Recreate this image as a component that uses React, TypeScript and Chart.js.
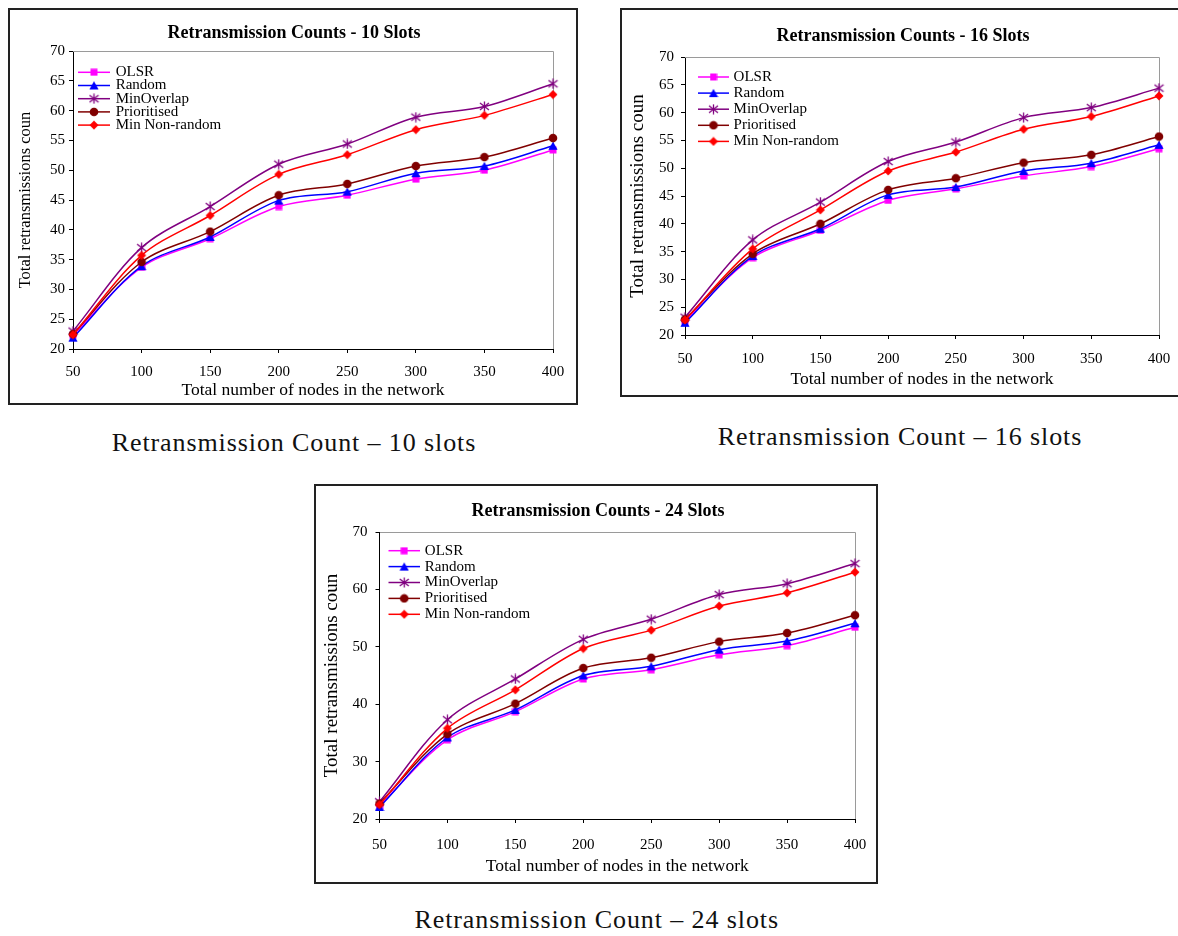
import React, { useEffect, useRef } from "react";
import { Chart, registerables } from "chart.js";
Chart.register(...registerables);

const FONT = "'Liberation Serif', 'Times New Roman', serif";

// ---------- data ----------
const nodes = [50, 100, 150, 200, 250, 300, 350, 400];
const seriesNames = ["OLSR", "Random", "MinOverlap", "Prioritised", "Min Non-random"];
const seriesColors = ["#FF00FF", "#0000FF", "#800080", "#800000", "#FF0000"];
const seriesMarkers = ["square", "triangle", "star", "circle", "diamond"];

const olsr10 = [22.3, 33.7, 38.5, 43.9, 45.8, 48.5, 50.0, 53.4];
const random10 = [21.9, 33.9, 38.8, 44.9, 46.4, 49.5, 50.7, 54.1];
const minOverlap10 = [23.0, 37.0, 43.9, 51.0, 54.4, 58.9, 60.7, 64.5];
const prio10 = [22.5, 34.6, 39.7, 45.8, 47.7, 50.7, 52.2, 55.4];
const minNonRandom10 = [22.4, 35.7, 42.4, 49.3, 52.6, 56.8, 59.2, 62.7];

const olsr16 = [22.5, 33.9, 38.8, 44.2, 46.3, 48.6, 50.3, 53.5];
const random16 = [22.2, 34.2, 39.1, 45.2, 46.6, 49.5, 50.9, 54.2];
const minOverlap16 = [23.2, 37.1, 43.9, 51.2, 54.7, 59.1, 60.9, 64.4];
const prio16 = [22.8, 34.6, 40.0, 46.1, 48.2, 51.0, 52.4, 55.7];
const minNonRandom16 = [22.7, 35.5, 42.5, 49.5, 52.9, 57.0, 59.3, 63.0];

const olsr24 = [22.3, 33.8, 38.7, 44.4, 46.0, 48.6, 50.2, 53.4];
const random24 = [22.1, 34.2, 39.0, 45.0, 46.6, 49.5, 51.0, 54.1];
const minOverlap24 = [23.0, 37.3, 44.4, 51.3, 54.8, 59.1, 61.0, 64.5];
const prio24 = [22.7, 34.8, 40.1, 46.3, 48.1, 50.9, 52.4, 55.5];
const minNonRandom24 = [22.5, 35.8, 42.5, 49.7, 52.9, 57.1, 59.4, 63.0];

const chartTitles = [
  "Retransmission Counts - 10 Slots",
  "Retransmission Counts - 16 Slots",
  "Retransmission Counts - 24 Slots",
];
const captions = [
  "Retransmission Count \u2013 10 slots",
  "Retransmission Count \u2013 16 slots",
  "Retransmission Count \u2013 24 slots",
];
const xAxisTitle = "Total number of nodes in the network";
const yAxisTitle = "Total retransmissions coun";
const yMin = 20;
const yMax = 70;
const yStepSizes = [5, 5, 10];
const xMin = 50;
const xMax = 400;
const xStep = 50;

// ---------- layout (styles / positions only) ----------
type Layout = {
  left: number; top: number; width: number; height: number;
  plotL: number; plotR: number; plotT: number; plotB: number;
  titleX: number; titleY: number;
  yTitleSize: number; yTitlePad: number; xTitlePad: number;
  xTickPad: number; yTickPad: number;
  legendLineX: number; legendLineW: number; legendTextX: number;
  legendY0: number; legendDy: number;
};

const layouts: Layout[] = [
  { left: 8, top: 8, width: 570, height: 397, plotL: 65, plotR: 545, plotT: 43, plotB: 341,
    titleX: 286, titleY: 25, yTitleSize: 16.5, yTitlePad: 8.1, xTitlePad: 4.5, xTickPad: 9.7, yTickPad: 4,
    legendLineX: 70, legendLineW: 32, legendTextX: 107.7, legendY0: 64.3, legendDy: 13.2 },
  { left: 620, top: 8, width: 560, height: 389, plotL: 65, plotR: 539, plotT: 49, plotB: 327,
    titleX: 283, titleY: 28, yTitleSize: 19, yTitlePad: 6.5, xTitlePad: 7.2, xTickPad: 11.3, yTickPad: 7,
    legendLineX: 78, legendLineW: 31, legendTextX: 113.6, legendY0: 69, legendDy: 16.1 },
  { left: 314, top: 484, width: 564, height: 400, plotL: 65.5, plotR: 541, plotT: 48, plotB: 335,
    titleX: 284, titleY: 27.7, yTitleSize: 19, yTitlePad: 7, xTitlePad: 6.8, xTickPad: 13, yTickPad: 8,
    legendLineX: 74.5, legendLineW: 31.5, legendTextX: 110.8, legendY0: 66.7, legendDy: 15.9 },
];

const captionPos = [
  { cx: 294, baseline: 451.7 },
  { cx: 900, baseline: 446 },
  { cx: 596.7, baseline: 929 },
];

// ---------- markers ----------
const markerCache: Record<string, HTMLCanvasElement> = {};
function makeMarker(kind: string, color: string): HTMLCanvasElement {
  const key = kind + color;
  if (markerCache[key]) return markerCache[key];
  const cv = document.createElement("canvas");
  const g = cv.getContext("2d") as CanvasRenderingContext2D;
  if (kind === "square") {
    cv.width = 8; cv.height = 8;
    g.fillStyle = color; g.fillRect(0.5, 0.5, 7, 7);
  } else if (kind === "triangle") {
    cv.width = 10; cv.height = 10;
    g.fillStyle = color;
    g.beginPath(); g.moveTo(5, 0.8); g.lineTo(9.6, 9); g.lineTo(0.4, 9); g.closePath(); g.fill();
  } else if (kind === "star") {
    cv.width = 11; cv.height = 11;
    g.strokeStyle = color; g.lineWidth = 1.3;
    g.beginPath();
    g.moveTo(5.5, 0.5); g.lineTo(5.5, 10.5);
    g.moveTo(1, 2); g.lineTo(10, 9);
    g.moveTo(10, 2); g.lineTo(1, 9);
    g.stroke();
  } else if (kind === "circle") {
    cv.width = 10; cv.height = 10;
    g.fillStyle = color;
    g.beginPath(); g.arc(5, 5, 4.3, 0, Math.PI * 2); g.fill();
  } else {
    cv.width = 10; cv.height = 10;
    g.fillStyle = color;
    g.beginPath(); g.moveTo(5, 0.5); g.lineTo(9.5, 5); g.lineTo(5, 9.5); g.lineTo(0.5, 5); g.closePath(); g.fill();
  }
  markerCache[key] = cv;
  return cv;
}

// ---------- chart ----------
function RetransChart({ idx, series }: { idx: number; series: number[][] }) {
  const ref = useRef<HTMLCanvasElement>(null);
  const L = layouts[idx];
  useEffect(() => {
    const canvas = ref.current;
    if (!canvas) return;
    const datasets = series.map((vals, i) => ({
      label: seriesNames[i],
      data: nodes.map((x, j) => ({ x, y: vals[j] })),
      borderColor: seriesColors[i],
      backgroundColor: seriesColors[i],
      borderWidth: 1.5,
      pointStyle: makeMarker(seriesMarkers[i], seriesColors[i]) as any,
      pointRadius: 4,
      tension: 0.33,
      clip: false as any,
      order: seriesNames.length - i,
    }));

    const decorPlugin = {
      id: "decor" + idx,
      beforeDatasetsDraw(chart: any) {
        const { ctx, chartArea } = chart;
        ctx.save();
        ctx.strokeStyle = "#9a9a9a";
        ctx.lineWidth = 1;
        ctx.beginPath();
        const t = Math.round(chartArea.top) + 0.5;
        const r = Math.round(chartArea.right) + 0.5;
        ctx.moveTo(Math.round(chartArea.left), t);
        ctx.lineTo(r, t);
        ctx.lineTo(r, Math.round(chartArea.bottom));
        ctx.stroke();
        ctx.restore();
      },
      afterDraw(chart: any) {
        const { ctx } = chart;
        ctx.save();
        // title
        ctx.fillStyle = "#000";
        ctx.font = `bold 18px ${FONT}`;
        ctx.textAlign = "center";
        ctx.textBaseline = "middle";
        ctx.fillText(chartTitles[idx], L.titleX, L.titleY);
        // legend
        ctx.font = `15px ${FONT}`;
        ctx.textAlign = "left";
        for (let i = 0; i < seriesNames.length; i++) {
          const y = L.legendY0 + i * L.legendDy;
          ctx.strokeStyle = seriesColors[i];
          ctx.lineWidth = 1.5;
          ctx.beginPath();
          ctx.moveTo(L.legendLineX, y);
          ctx.lineTo(L.legendLineX + L.legendLineW, y);
          ctx.stroke();
          const m = makeMarker(seriesMarkers[i], seriesColors[i]);
          ctx.drawImage(m, L.legendLineX + L.legendLineW / 2 - m.width / 2, y - m.height / 2);
          ctx.fillStyle = "#000";
          ctx.fillText(seriesNames[i], L.legendTextX, y);
        }
        ctx.restore();
      },
    };

    const chart = new Chart(canvas, {
      type: "line",
      data: { datasets: datasets as any },
      options: {
        animation: false,
        responsive: false,
        devicePixelRatio: 1,
        layout: { padding: { top: L.plotT, right: L.width - L.plotR, left: 0, bottom: 0 } },
        plugins: {
          legend: { display: false },
          title: { display: false },
          tooltip: { enabled: false },
        },
        scales: {
          x: {
            type: "linear",
            min: xMin,
            max: xMax,
            ticks: { stepSize: xStep, color: "#000", font: { family: FONT, size: 15 }, padding: L.xTickPad, maxRotation: 0 },
            grid: { drawOnChartArea: false, drawTicks: true, tickLength: 4, color: "#000" },
            border: { display: true, color: "#000", width: 1 },
            title: {
              display: true, text: xAxisTitle, color: "#000",
              font: { family: FONT, size: 17.5 }, padding: { top: 0, bottom: L.xTitlePad },
            },
            afterFit: (s: any) => { s.height = L.height - L.plotB; s.paddingLeft = 0; s.paddingRight = 0; },
          },
          y: {
            type: "linear",
            min: yMin,
            max: yMax,
            ticks: { stepSize: yStepSizes[idx], color: "#000", font: { family: FONT, size: 15 }, padding: L.yTickPad },
            grid: { drawOnChartArea: false, drawTicks: true, tickLength: 4, color: "#000" },
            border: { display: true, color: "#000", width: 1 },
            title: {
              display: true, text: yAxisTitle, color: "#000",
              font: { family: FONT, size: L.yTitleSize }, padding: { top: L.yTitlePad, bottom: 0 },
            },
            afterFit: (s: any) => { s.width = L.plotL; s.paddingTop = 0; s.paddingBottom = 0; },
          },
        },
      } as any,
      plugins: [decorPlugin],
    });
    return () => chart.destroy();
  }, []);

  return (
    <>
      <canvas
        ref={ref}
        width={L.width}
        height={L.height}
        style={{ position: "absolute", left: L.left, top: L.top, width: L.width, height: L.height }}
      />
      <div
        style={{
          position: "absolute", left: L.left, top: L.top, width: L.width, height: L.height,
          boxSizing: "border-box", border: "2px solid #222", pointerEvents: "none",
        }}
      />
    </>
  );
}

export default function App() {
  const allSeries = [
    [olsr10, random10, minOverlap10, prio10, minNonRandom10],
    [olsr16, random16, minOverlap16, prio16, minNonRandom16],
    [olsr24, random24, minOverlap24, prio24, minNonRandom24],
  ];
  const capSize = 26;
  return (
    <div style={{ position: "absolute", left: 0, top: 0, width: 1178, height: 936, overflow: "hidden", background: "#fff" }}>
      {allSeries.map((s, i) => (
        <RetransChart key={i} idx={i} series={s} />
      ))}
      {captions.map((t, i) => (
        <div
          key={"c" + i}
          style={{
            position: "absolute",
            left: captionPos[i].cx,
            top: captionPos[i].baseline - 21.8,
            transform: "translateX(-50%)",
            fontFamily: FONT,
            fontSize: capSize,
            lineHeight: capSize + "px",
            letterSpacing: "0.9px",
            whiteSpace: "nowrap",
            color: "#111",
          }}
        >
          {t}
        </div>
      ))}
    </div>
  );
}
